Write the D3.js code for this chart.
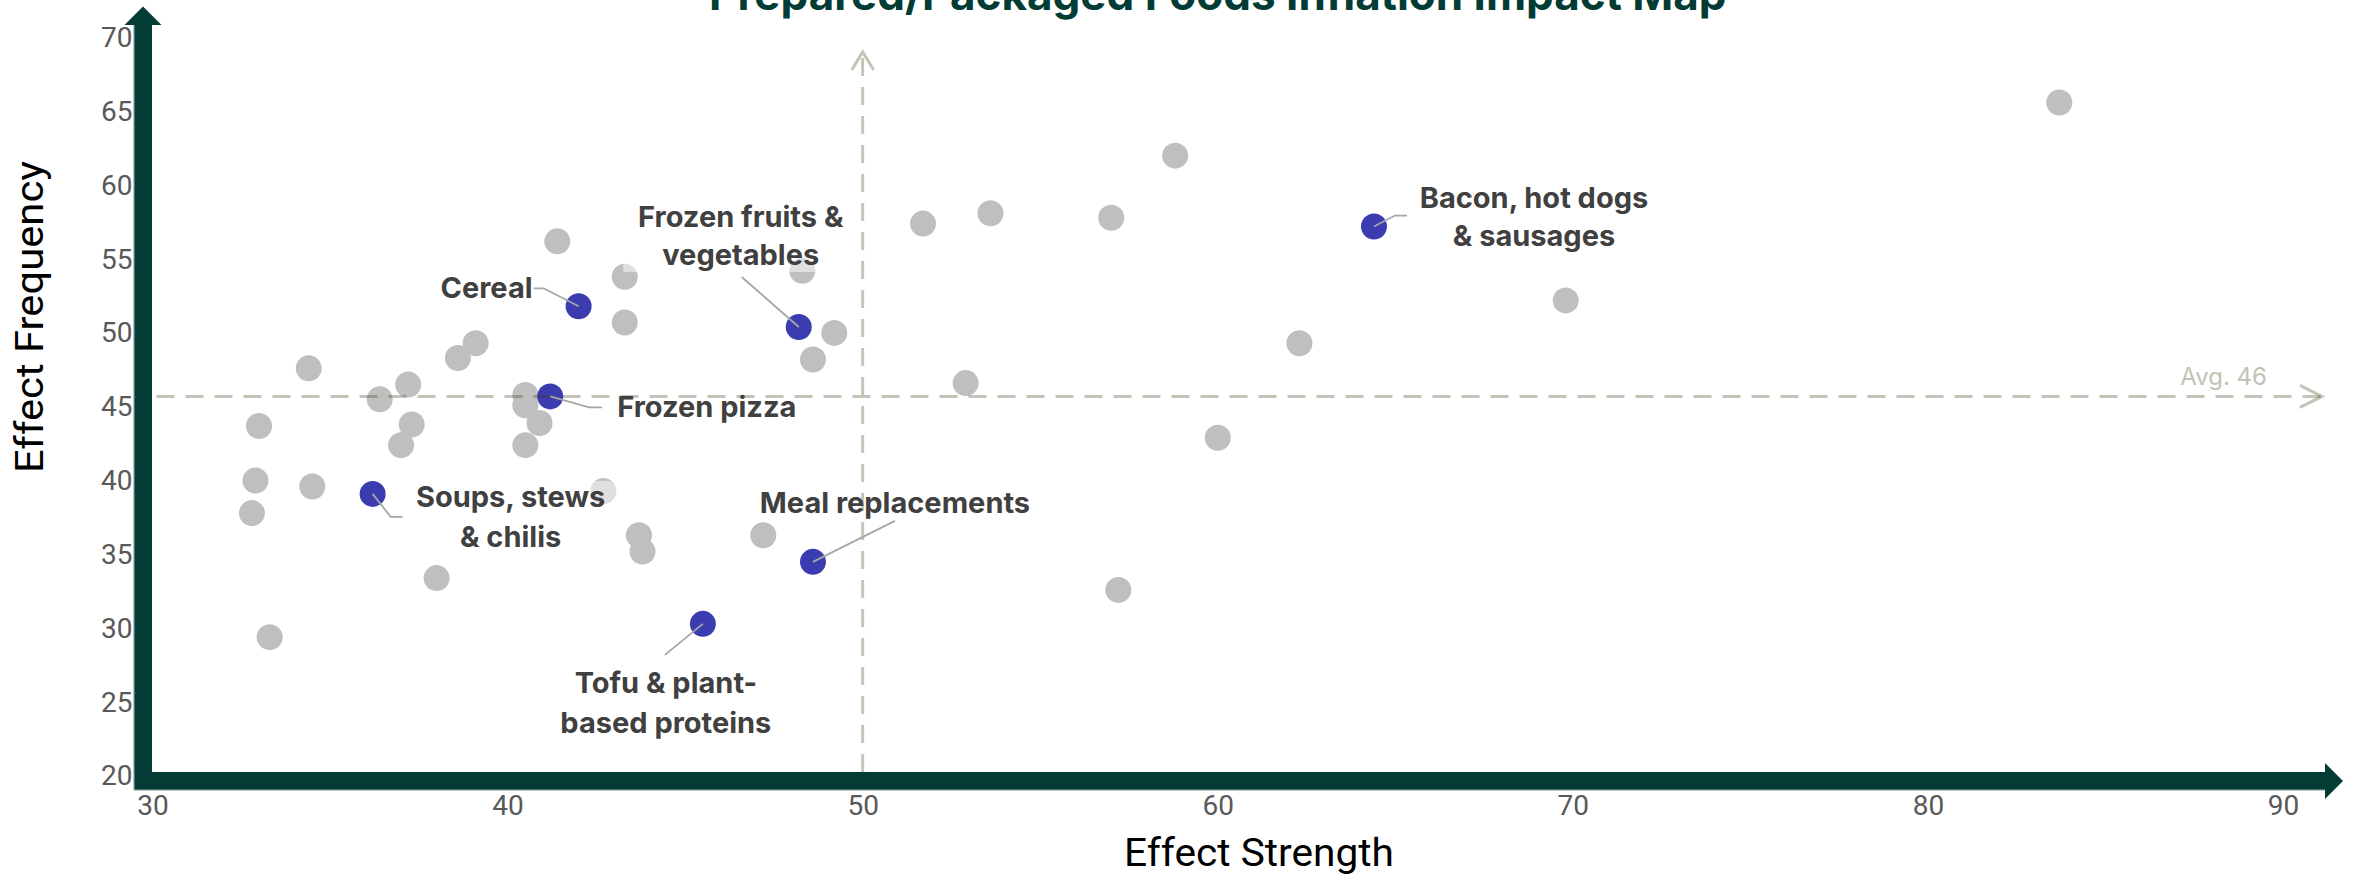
<!DOCTYPE html>
<html>
<head>
<meta charset="utf-8">
<script src="https://cdn.jsdelivr.net/npm/d3@7"></script>
<style>
  body { margin: 0; background: #ffffff; }
  svg { display: block; }
</style>
</head>
<body>
<svg id="chart" width="2353" height="881"></svg>
<script>
// ---- Data ----
const xTicks = [30, 40, 50, 60, 70, 80, 90];
const yTicks = [20, 25, 30, 35, 40, 45, 50, 55, 60, 65, 70];

// Unlabelled categories: effect strength (x) and effect frequency (y)
const otherStrength = [83.7, 58.8, 53.6, 57.0, 51.7, 41.4, 48.3, 43.3, 69.8, 43.3,
                       49.2, 39.1, 38.6, 48.6, 62.3, 34.4, 37.2, 52.9, 36.4, 40.5,
                       40.5, 37.3, 40.9, 33.0, 37.0, 40.5, 60.0, 32.9, 34.5, 42.7,
                       32.8, 43.7, 47.2, 43.8, 38.0, 57.2, 33.3];
const otherFrequency = [65.6, 62.0, 58.1, 57.8, 57.4, 56.2, 54.2, 53.8, 52.2, 50.7,
                        50.0, 49.3, 48.3, 48.2, 49.3, 47.6, 46.5, 46.6, 45.5, 45.8,
                        45.1, 43.8, 43.9, 43.7, 42.4, 42.4, 42.9, 40.0, 39.6, 39.3,
                        37.8, 36.3, 36.3, 35.2, 33.4, 32.6, 29.4];

// Highlighted categories
const highlightNames = ["Bacon, hot dogs & sausages", "Cereal", "Frozen fruits & vegetables",
                        "Frozen pizza", "Soups, stews & chilis", "Meal replacements",
                        "Tofu & plant-based proteins"];
const highlightLines = [["Bacon, hot dogs", "& sausages"], ["Cereal"], ["Frozen fruits &", "vegetables"],
                        ["Frozen pizza"], ["Soups, stews", "& chilis"], ["Meal replacements"],
                        ["Tofu & plant-", "based proteins"]];
const highlightStrength = [64.4, 42.0, 48.2, 41.2, 36.2, 48.6, 45.5];
const highlightFrequency = [57.2, 51.8, 50.4, 45.7, 39.1, 34.5, 30.3];

const avgFrequency = 45.7;
const strengthDivider = 50;

const titleText = "Prepared/Packaged Foods Inflation Impact Map";
const xTitle = "Effect Strength";
const yTitle = "Effect Frequency";

// ---- Layout & style ----
const AXIS_GREEN = "#033c34";
const GRAY_DOT = "#bfbfbf";
const BLUE_DOT = "#3c3cb1";
const LABEL_COLOR = "#404040";
const TICK_COLOR = "#595959";
const R = 13;

const svg = d3.select("#chart");

const x = d3.scaleLinear().domain([30, 90]).range([152.5, 2283]);
const y = d3.scaleLinear().domain([20, 70]).range([776, 37.5]);

// Label placement, as pixel offsets from each highlighted point
const labelLayout = [
  { anchor: "middle", dx: 160, dy: [-19, 19],   leader: [[21, -11], [33, -11]] },
  { anchor: "end",    dx: -46, dy: [-8],        leader: [[-35, -18], [-45, -18]] },
  { anchor: "middle", dx: -58, dy: [-100, -62], leader: [[-57, -50]] },
  { anchor: "start",  dx: 67,  dy: [21],        leader: [[39, 11], [52, 11]] },
  { anchor: "middle", dx: 138, dy: [13, 53],    leader: [[18, 23], [30, 23]] },
  { anchor: "middle", dx: 82,  dy: [-49],       leader: [[82, -41]] },
  { anchor: "middle", dx: -37, dy: [69, 109],   leader: [[-38, 31]] }
];

// ---- Title ----
svg.append("text")
  .attr("x", (x.range()[0] + x.range()[1]) / 2)
  .attr("y", 10)
  .attr("text-anchor", "middle")
  .attr("font-family", "Inter, 'Open Sans', sans-serif")
  .attr("font-weight", 700)
  .attr("font-size", 44)
  .attr("fill", AXIS_GREEN)
  .text(titleText);

// ---- Axis arrows ----
const axisG = svg.append("g");
const barW = 18;
const x0 = x.range()[0], yBase = y.range()[0];
// vertical bar with arrow head
axisG.append("rect")
  .attr("x", x0 - barW - 0.5).attr("y", 25)
  .attr("width", barW).attr("height", yBase + 14 - 25)
  .attr("fill", AXIS_GREEN);
axisG.append("path")
  .attr("d", `M${x0 - barW / 2 - 0.5 - 18.5},25 L${x0 - barW / 2 - 0.5},6.5 L${x0 - barW / 2 - 0.5 + 18.5},25 Z`)
  .attr("fill", AXIS_GREEN);
// horizontal bar with arrow head
axisG.append("rect")
  .attr("x", x0 - barW - 0.5).attr("y", yBase - 4)
  .attr("width", 2325 - (x0 - barW - 0.5)).attr("height", barW)
  .attr("fill", AXIS_GREEN);
axisG.append("path")
  .attr("d", `M2325,${yBase - 4 + barW / 2 - 18} L2343,${yBase - 4 + barW / 2} L2325,${yBase - 4 + barW / 2 + 18} Z`)
  .attr("fill", AXIS_GREEN);
// thin outer edge lines
axisG.append("line")
  .attr("x1", x0 - barW - 0.5).attr("x2", x0 - barW - 0.5)
  .attr("y1", 25).attr("y2", yBase + 14)
  .attr("stroke", "#8a9d98").attr("stroke-width", 1.2);
axisG.append("line")
  .attr("x1", x0 - barW - 0.5).attr("x2", 2325)
  .attr("y1", yBase + 14).attr("y2", yBase + 14)
  .attr("stroke", "#8a9d98").attr("stroke-width", 1.2);

// ---- Points ----
const others = otherStrength.map((s, i) => ({ s, f: otherFrequency[i] }));
const highlights = highlightNames.map((n, i) => ({
  name: n, lines: highlightLines[i], s: highlightStrength[i], f: highlightFrequency[i], layout: labelLayout[i]
}));

svg.append("g").selectAll("circle")
  .data(others).join("circle")
  .attr("cx", d => x(d.s)).attr("cy", d => y(d.f)).attr("r", R)
  .attr("fill", GRAY_DOT);

svg.append("g").selectAll("circle")
  .data(highlights).join("circle")
  .attr("cx", d => x(d.s)).attr("cy", d => y(d.f)).attr("r", R)
  .attr("fill", BLUE_DOT);

// Layers: label backgrounds (semi-transparent, they lighten whatever lies beneath),
// reference lines, leader lines, label text
const boxLayer = svg.append("g");
const refLayer = svg.append("g");
const leaderLayer = svg.append("g");
const textLayer = svg.append("g");

// ---- Reference lines ----
const refStroke = { color: "#3c3c14", opacity: 0.3, width: 3 };
const avgYpx = y(avgFrequency);
const hEnd = 2322;
refLayer.append("line")
  .attr("x1", x0 + 4).attr("x2", hEnd - 1)
  .attr("y1", avgYpx).attr("y2", avgYpx)
  .attr("stroke", refStroke.color).attr("stroke-opacity", refStroke.opacity)
  .attr("stroke-width", refStroke.width).attr("stroke-dasharray", "18 11");
refLayer.append("path")
  .attr("d", `M${hEnd - 22},${avgYpx - 11} L${hEnd},${avgYpx} L${hEnd - 22},${avgYpx + 11}`)
  .attr("fill", "none")
  .attr("stroke", refStroke.color).attr("stroke-opacity", refStroke.opacity)
  .attr("stroke-width", refStroke.width);
refLayer.append("text")
  .attr("x", hEnd - 55).attr("y", avgYpx - 11)
  .attr("text-anchor", "end")
  .attr("font-family", "Inter, 'Open Sans', sans-serif")
  .attr("font-size", 24)
  .attr("fill", "#c2c2b4")
  .text(`Avg. ${Math.round(avgFrequency)}`);

const divX = x(strengthDivider);
const vTop = 52;
refLayer.append("line")
  .attr("x1", divX).attr("x2", divX)
  .attr("y1", yBase - 4).attr("y2", vTop + 1)
  .attr("stroke", refStroke.color).attr("stroke-opacity", refStroke.opacity)
  .attr("stroke-width", refStroke.width).attr("stroke-dasharray", "18 11");
refLayer.append("path")
  .attr("d", `M${divX - 11},${vTop + 18} L${divX},${vTop} L${divX + 11},${vTop + 18}`)
  .attr("fill", "none")
  .attr("stroke", refStroke.color).attr("stroke-opacity", refStroke.opacity)
  .attr("stroke-width", refStroke.width);

// ---- Leaders and labels ----
highlights.forEach(d => {
  const cx = x(d.s), cy = y(d.f), L = d.layout;
  const pts = [[cx, cy]].concat(L.leader.map(p => [cx + p[0], cy + p[1]]));
  leaderLayer.append("path")
    .attr("d", d3.line()(pts))
    .attr("fill", "none")
    .attr("stroke", "#a6a6a6")
    .attr("stroke-width", 1.8);

  const t = textLayer.append("text")
    .attr("text-anchor", L.anchor)
    .attr("font-family", "Inter, 'Open Sans', sans-serif")
    .attr("font-weight", 700)
    .attr("font-size", 29)
    .attr("fill", LABEL_COLOR);
  d.lines.forEach((ln, i) => {
    t.append("tspan").attr("x", cx + L.dx).attr("y", cy + L.dy[i]).text(ln);
  });
  const bb = t.node().getBBox();
  boxLayer.append("rect")
    .attr("x", bb.x - 15).attr("y", bb.y + 2)
    .attr("width", bb.width + 30).attr("height", bb.height - 2)
    .attr("fill", "#ffffff").attr("fill-opacity", 0.5);
});

// ---- Tick labels ----
const xAxis = svg.append("g")
  .attr("transform", `translate(0,${yBase})`)
  .call(d3.axisBottom(x).tickValues(xTicks).tickSize(0).tickPadding(19));
const yAxis = svg.append("g")
  .attr("transform", `translate(${x0},0)`)
  .call(d3.axisLeft(y).tickValues(yTicks).tickSize(0).tickPadding(20));
[xAxis, yAxis].forEach(g => {
  g.select(".domain").remove();
  g.selectAll("text")
    .attr("font-family", "Roboto, sans-serif")
    .attr("font-size", 28)
    .attr("fill", TICK_COLOR);
});

// ---- Axis titles ----
svg.append("text")
  .attr("x", 1259).attr("y", 866)
  .attr("text-anchor", "middle")
  .attr("font-family", "Roboto, sans-serif")
  .attr("font-size", 38)
  .attr("fill", "#000000")
  .attr("textLength", 270).attr("lengthAdjust", "spacingAndGlyphs")
  .text(xTitle);
svg.append("text")
  .attr("transform", "translate(43,317) rotate(-90)")
  .attr("text-anchor", "middle")
  .attr("font-family", "Roboto, sans-serif")
  .attr("font-size", 38)
  .attr("fill", "#000000")
  .attr("textLength", 312).attr("lengthAdjust", "spacingAndGlyphs")
  .text(yTitle);
</script>
</body>
</html>
